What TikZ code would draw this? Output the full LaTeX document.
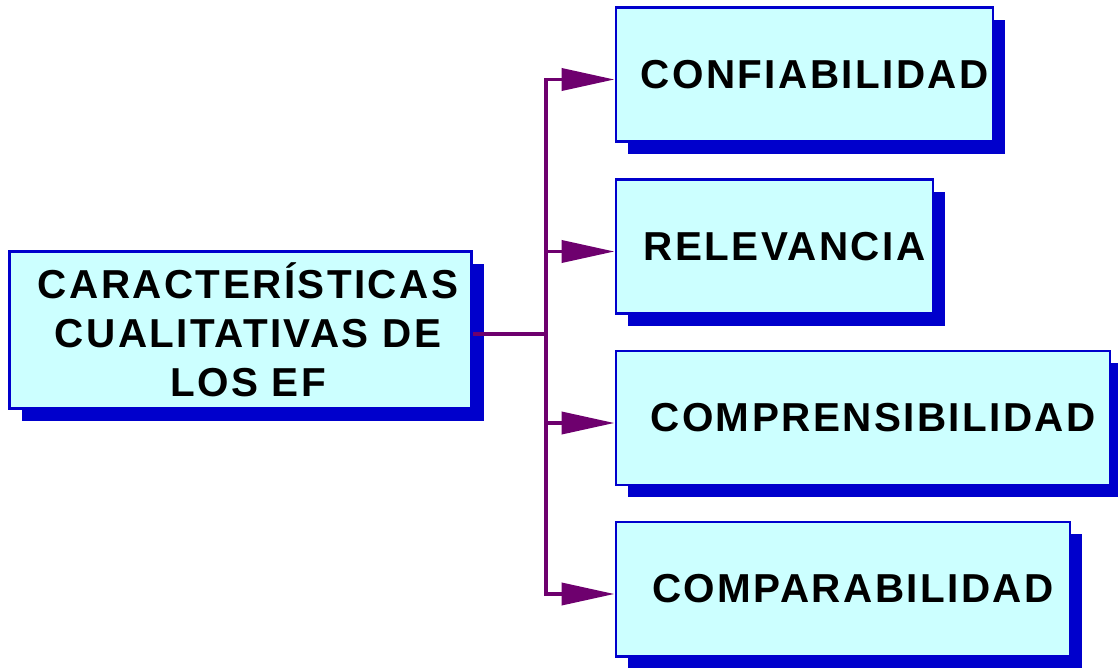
\documentclass[tikz,border=0pt]{standalone}
\usepackage{fontspec}
\setmainfont{Liberation Sans}
\usetikzlibrary{positioning, arrows.meta, shadows}
\definecolor{boxfill}{HTML}{CCFFFF}
\definecolor{boxline}{HTML}{0000CC}
\definecolor{linkcol}{HTML}{6E006E}
\tikzset{
  itembox/.style={draw=boxline, fill=boxfill, line width=1.7pt, shape=rectangle,
    minimum height=2.68cm, align=center, inner sep=0pt,
    font=\fontsize{23}{28}\selectfont\bfseries\addfontfeature{LetterSpace=6},
    drop shadow={shadow xshift=0.24cm, shadow yshift=-0.24cm, fill=boxline, opacity=1}},
  link/.style={draw=linkcol, line width=2.2pt},
  arrowlink/.style={link, -{Triangle[length=1.06cm, width=0.44cm]}}
}
\begin{document}
\begin{tikzpicture}
  \useasboundingbox (0,0) rectangle (22.36,-13.42);
  % main box
  \node[itembox, minimum width=9.24cm, minimum height=3.14cm] (main) at (4.81,-6.6)
    {\hspace*{0.3cm}CARACTERÍSTICAS\\\hspace*{0.3cm}CUALITATIVAS DE\\\hspace*{0.3cm}LOS EF};
  % items
  \node[itembox, anchor=west, minimum width=7.54cm] (conf) at (12.29,-1.49) {\hspace*{0.4cm}CONFIABILIDAD};
  \node[itembox, anchor=west, minimum width=6.34cm] (rel) at (12.29,-4.93) {\hspace*{0.4cm}RELEVANCIA};
  \node[itembox, anchor=west, minimum width=9.88cm] (comp) at (12.29,-8.36) {\hspace*{0.4cm}COMPRENSIBILIDAD};
  \node[itembox, anchor=west, minimum width=9.08cm] (compar) at (12.29,-11.78) {\hspace*{0.4cm}COMPARABILIDAD};
  \coordinate (fork) at (10.92,-6.68);
  % connectors
  \draw[link] (main.east |- fork) -- (fork);
  \draw[arrowlink] (fork) |- ([yshift=-0.1cm]conf.west);
  \draw[arrowlink] (fork) |- ([yshift=-0.1cm]rel.west);
  \draw[arrowlink] (fork) |- ([yshift=-0.1cm]comp.west);
  \draw[arrowlink] (fork) |- ([yshift=-0.1cm]compar.west);
\end{tikzpicture}
\end{document}
